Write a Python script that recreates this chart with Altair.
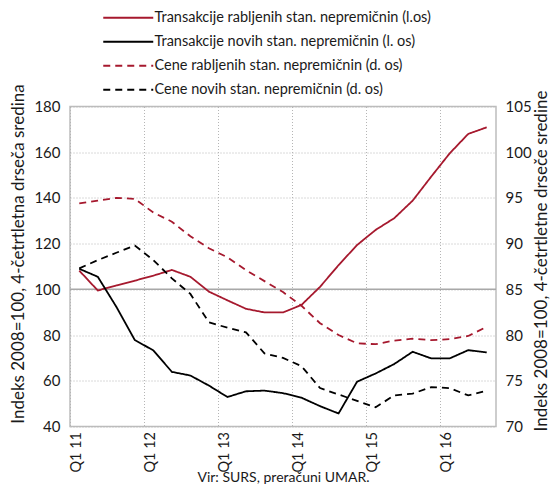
import altair as alt
import pandas as pd

FONT = "Lato, sans-serif"
TXT = "#1a1a1a"
RED = "#a6192e"

quarters = ["Q1 11", "Q2 11", "Q3 11", "Q4 11",
            "Q1 12", "Q2 12", "Q3 12", "Q4 12",
            "Q1 13", "Q2 13", "Q3 13", "Q4 13",
            "Q1 14", "Q2 14", "Q3 14", "Q4 14",
            "Q1 15", "Q2 15", "Q3 15", "Q4 15",
            "Q1 16", "Q2 16", "Q3 16"]
tick_labels = ["Q1 11", "Q1 12", "Q1 13", "Q1 14", "Q1 15", "Q1 16"]

trans_used = [108.2, 99.5, 101.7, 103.8, 106.0, 108.5, 105.5, 99.0, 95.2, 91.5, 89.9, 89.9,
              93.2, 101.1, 110.6, 119.4, 126.0, 131.1, 138.8, 149.3, 159.5, 168.0, 170.9]
trans_new = [109.0, 105.5, 92.4, 77.8, 73.3, 63.9, 62.3, 57.9, 52.9, 55.4, 55.7, 54.6,
             52.6, 48.9, 45.7, 59.6, 63.2, 67.3, 72.7, 69.8, 69.8, 73.4, 72.4]
price_used = [94.4, 94.7, 95.0, 94.9, 93.4, 92.4, 90.8, 89.5, 88.5, 87.1, 85.9, 84.7,
              83.2, 81.3, 80.0, 79.1, 79.0, 79.4, 79.6, 79.45, 79.55, 79.9, 80.9]
price_new = [87.3, 88.2, 89.0, 89.8, 88.2, 86.2, 84.5, 81.4, 80.8, 80.3, 78.0, 77.5,
             76.6, 74.2, 73.5, 72.8, 72.1, 73.4, 73.6, 74.3, 74.2, 73.4, 73.9]

series_names = ["Transakcije rabljenih stan. nepremičnin (l.os)",
                "Transakcije novih stan. nepremičnin (l. os)",
                "Cene rabljenih stan. nepremičnin (d. os)",
                "Cene novih stan. nepremičnin (d. os)"]
series_colors = [RED, "#000000", RED, "#000000"]
series_dash = [[1, 0], [1, 0], [7, 5], [7, 5]]

rows = []
for name, vals, side in zip(series_names, [trans_used, trans_new, price_used, price_new],
                            ["L", "L", "R", "R"]):
    for i, (q, v) in enumerate(zip(quarters, vals)):
        rows.append({"i": i, "quarter": q, "value": v, "series": name, "side": side})
df = pd.DataFrame(rows)

legend = alt.Legend(orient="none", legendX=51, legendY=-96, title=None,
                    symbolType="M-5,0H5", symbolSize=100, symbolStrokeWidth=2,
                    labelFont=FONT, labelFontSize=14.5, labelColor=TXT,
                    labelOffset=19, rowPadding=9, padding=0, labelLimit=0)

color = alt.Color("series:N", scale=alt.Scale(domain=series_names, range=series_colors), legend=legend)
dash = alt.StrokeDash("series:N", scale=alt.Scale(domain=series_names, range=series_dash), legend=legend)

grid_vals = [-0.5, 3.5, 7.5, 11.5, 15.5, 19.5]
label_expr = "[" + ",".join(f"'{t}'" for t in tick_labels) + "][floor((datum.value + 0.5) / 4)]"

x = alt.X("i:Q", scale=alt.Scale(domain=[-0.5, 22.5], nice=False, zero=False),
          axis=alt.Axis(values=grid_vals, labelExpr=label_expr, labelAngle=270, labelOffset=6,
                        labelFont=FONT, labelFontSize=14.5, labelColor=TXT, labelPadding=5,
                        grid=True, gridDash=[1, 2], gridColor="#b5b5b5", gridWidth=1,
                        ticks=False, domain=False, labelFlush=False,
                        title="Vir: SURS, preračuni UMAR.", titleFont=FONT, titleFontSize=14,
                        titleFontWeight="normal", titleColor=TXT,
                        titleY=51, titleBaseline="middle"))

y_left = alt.Y("value:Q", scale=alt.Scale(domain=[40, 180], nice=False, zero=False),
               axis=alt.Axis(values=list(range(40, 181, 20)), grid=True, gridDash=[1, 2],
                             gridColor="#b5b5b5", ticks=False, domain=False,
                             labelFont=FONT, labelFontSize=15, labelColor=TXT, labelPadding=10,
                             title="Indeks 2008=100, 4-četrtletna drseča sredina",
                             titleFont=FONT, titleFontSize=17, titleFontWeight="normal",
                             titleColor=TXT, titleAngle=270, titleX=-52, titleY=147,
                             titleBaseline="middle", titleAlign="center"))
y_right = alt.Y("value:Q", scale=alt.Scale(domain=[70, 105], nice=False, zero=False),
                axis=alt.Axis(orient="right", values=list(range(70, 106, 5)), grid=False,
                              ticks=False, domain=False,
                              labelFont=FONT, labelFontSize=15, labelColor=TXT, labelPadding=9,
                              title="Indeks 2008=100, 4-četrtletne drseče sredine",
                              titleFont=FONT, titleFontSize=17, titleFontWeight="normal",
                              titleColor=TXT, titleAngle=270, titleX=45, titleY=154,
                              titleBaseline="middle", titleAlign="center"))

base = alt.Chart(df)
rule100 = alt.Chart(pd.DataFrame({"value": [100]})).mark_rule(color="#a8a8a8", strokeWidth=1.5).encode(
    y=y_left)
left_lines = base.transform_filter(alt.datum.side == "L").mark_line(strokeWidth=1.8).encode(
    x=x, y=y_left, color=color, strokeDash=dash)
right_lines = base.transform_filter(alt.datum.side == "R").mark_line(strokeWidth=1.8).encode(
    x=x, y=y_right, color=color, strokeDash=dash)

left = alt.layer(rule100, left_lines)
chart = alt.layer(left, right_lines).resolve_scale(y="independent").properties(
    width=426, height=320,
    autosize=alt.AutoSizeParams(type="none"),
    padding={"left": 62, "top": 98.5, "right": 55, "bottom": 59.5},
    background="white",
).configure_view(stroke="#bdbdbd", strokeWidth=1.5)

chart.save("out.html", embed_options={"renderer": "svg", "actions": False})
